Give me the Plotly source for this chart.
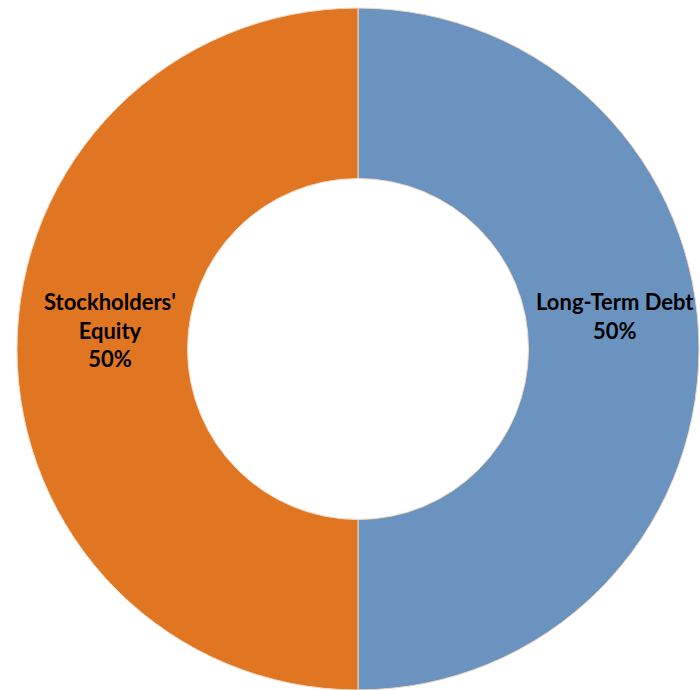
import plotly.graph_objects as go

labels = ["Long-Term Debt", "Stockholders' Equity"]
display_labels = ["Long-Term Debt", "Stockholders'<br>Equity"]
values = [50, 50]
colors = ["#6B93BF", "#E07522"]
# label anchor positions (pixels in the 700x690 canvas)
label_px = [(615, 316), (110, 330)]

W, H = 700, 690

fig = go.Figure(go.Pie(
    labels=labels,
    values=values,
    textinfo="none",
    hole=0.5,
    sort=False,
    direction="clockwise",
    rotation=0,
    marker=dict(colors=colors, line=dict(color="#F2D9C4", width=1)),
    domain=dict(x=[16/W, 1.0], y=[0.0, 1 - 8/H]),
    showlegend=False,
    hoverinfo="label+percent",
))

total = sum(values)
for lab, v, (px, py) in zip(display_labels, values, label_px):
    fig.add_annotation(
        x=px / W, y=1 - py / H, xref="paper", yref="paper",
        text=f"{lab}<br>{v / total:.0%}",
        showarrow=False, align="center",
        xanchor="center", yanchor="middle",
        font=dict(family="Lato", size=22, color="#000000", weight="bold"),
    )

fig.update_layout(
    width=W, height=H,
    margin=dict(l=0, r=0, t=0, b=0),
    paper_bgcolor="white",
    plot_bgcolor="white",
)

fig.write_html("out.html")
